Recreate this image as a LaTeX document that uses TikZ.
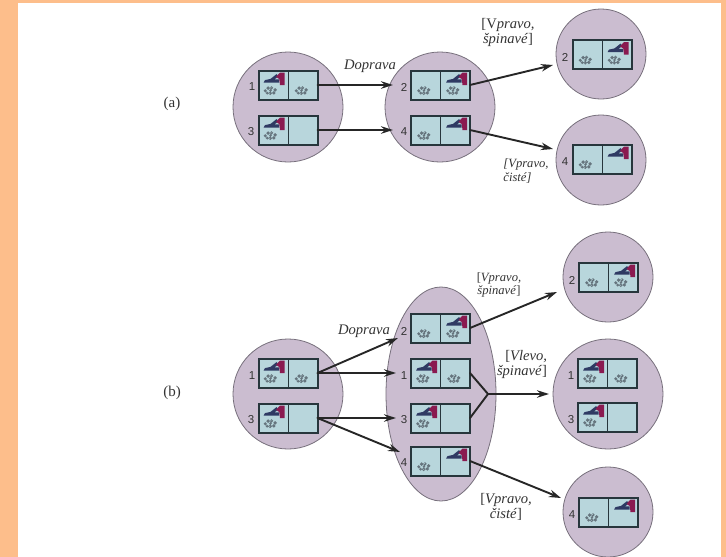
\documentclass[tikz,border=0pt]{standalone}
\usepackage{fontspec}
\setmainfont{Liberation Serif}
\newfontfamily\numfont{Liberation Sans}
\usetikzlibrary{arrows.meta}
\definecolor{pageor}{HTML}{FDBE8B}
\definecolor{blob}{HTML}{CBBDD0}
\definecolor{blobedge}{HTML}{77707C}
\definecolor{cellc}{HTML}{B8D6DC}
\definecolor{boxedge}{HTML}{27363C}
\definecolor{vacred}{HTML}{8A1A50}
\definecolor{vacblue}{HTML}{2F3A63}
\definecolor{dirtc}{HTML}{66757E}
\definecolor{inkc}{HTML}{333333}
\tikzset{
  state/.style={circle,draw=blobedge,fill=blob,line width=0.8pt,minimum size=#1,inner sep=0pt,outer sep=0pt},
  roombox/.style={rectangle,draw=boxedge,fill=cellc,line width=2pt,minimum width=59pt,minimum height=29pt,inner sep=0pt,outer sep=0pt},
  divider/.style={draw=boxedge,line width=1pt},
  conn/.style={draw=black!85,line width=1.9pt,line cap=round},
  arrowc/.style={conn,-{Stealth[length=12pt,width=7.5pt]}},
  numlab/.style={font=\numfont\fontsize{11.5}{11.5}\selectfont,text=inkc,inner sep=0pt},
  biglab/.style={font=\fontsize{14.6}{15}\selectfont,text=inkc,inner sep=0pt},
  smalllab/.style={font=\fontsize{12.6}{13.5}\selectfont,text=inkc,inner sep=0pt},
  caselab/.style={font=\fontsize{15}{15}\selectfont,text=inkc,inner sep=0pt},
}
\newcommand{\vacat}[1]{%
  \fill[vacblue] (#1+0,12.2) -- (#1+1.5,9.6) -- (#1+7,8.4) -- (#1+13,3.6) -- (#1+15,6) -- (#1+11,8.8) -- (#1+15.5,8.8) -- (#1+15.5,12.2) -- cycle;
  \fill[vacred] (#1+12.5,6.4) -- (#1+16.5,2) -- (#1+21,2) -- (#1+21,14.6) -- (#1+16.5,14.6) -- (#1+15.8,8.6) -- cycle;
}
\newcommand{\dirtat}[2]{%
  \fill[dirtc] (#1-5.2,#2+0.3) circle (1.7) (#1-2.4,#2-2.4) circle (1.9) (#1+1,#2-2.6) circle (1.8)
    (#1+4.6,#2-0.6) circle (1.9) (#1+3.3,#2+2.4) circle (1.8) (#1-0.3,#2+2.8) circle (1.9) (#1-3.3,#2+2.7) circle (1.5) (#1,#2) circle (1.4);
  \fill[cellc] (#1-2.8,#2+0.1) circle (0.5) (#1+2.1,#2+0.2) circle (0.5) (#1+0.4,#2-3) circle (0.4) (#1-0.8,#2+3) circle (0.4);
}
% name, centre x, centre y, contents
\newcommand{\room}[4]{%
  \node[roombox] (#1) at (#2,#3) {};
  \draw[divider] (#1.north) -- (#1.south);
  \begin{scope}[shift={(#1.north west)}]#4\end{scope}
}
\begin{document}
\begin{tikzpicture}[x=1pt,y=-1pt]
\useasboundingbox (0,0) rectangle (726,557);
\fill[pageor] (0,0) rectangle (726,557);
\fill[white] (18,3) rectangle (721,557);

% (a)
\node[state=110pt] (aL) at (288,107) {};
\node[state=110pt] (aM) at (440,107) {};
\node[state=90pt] (aT) at (601,54) {};
\node[state=90pt] (aB) at (601,160) {};
\room{a1}{288}{85}{\vacat{5}\dirtat{12}{20}\dirtat{43}{20}}
\room{a3}{288}{130}{\vacat{5}\dirtat{12}{20}}
\room{a2}{440.5}{85}{\dirtat{13}{20}\vacat{35}\dirtat{42}{20}}
\room{a4}{440.5}{130}{\dirtat{13}{20}\vacat{35}}
\room{a5}{602}{54.5}{\dirtat{13}{20}\vacat{35}\dirtat{42}{20}}
\room{a6}{602}{159}{\dirtat{13}{20}\vacat{35}}
\node[numlab] (na1) at (252,87) {1};
\node[numlab] (na3) at (251,132) {3};
\node[numlab] (na2) at (404,87) {2};
\node[numlab] (na4) at (404,132) {4};
\node[numlab] (na5) at (565,57) {2};
\node[numlab] (na6) at (565,162) {4};
\node[caselab] (la) at (172,104) {(a)};
\node[biglab] (ld1) at (370,66) {\itshape Doprava};
\node[biglab,align=center] (ltr) at (508,32.5) {[V\textit{pravo,}\\ \textit{špinavé}]};
\node[smalllab,align=left] (lbr) at (526,171) {\itshape [Vpravo,\\ \itshape čisté]};
\coordinate (ta5) at (553,65);
\coordinate (ta6) at (553,149);
\coordinate (ta2) at (393,85);
\coordinate (ta4) at (393,130);
\draw[arrowc] (a1.east) -- (ta2);
\draw[arrowc] (a3.east) -- (ta4);
\draw[arrowc] (a2.east) -- (ta5);
\draw[arrowc] (a4.east) -- (ta6);

% (b)
\node[state=110pt] (bL) at (288,394) {};
\node[circle,draw=none,inner sep=0pt] (bMc) at (441,394) {};
\draw[draw=blobedge,fill=blob,line width=0.8pt] (bMc) ellipse [x radius=55,y radius=107];
\node[state=90pt] (bT) at (608,277) {};
\node[state=110pt] (bC) at (608,394) {};
\node[state=90pt] (bB) at (608,512) {};
\room{b1}{288}{373}{\vacat{5}\dirtat{12}{20}\dirtat{43}{20}}
\room{b3}{288}{418}{\vacat{5}\dirtat{12}{20}}
\room{m2}{440.5}{328}{\dirtat{13}{20}\vacat{35}\dirtat{42}{20}}
\room{m1}{440.5}{373}{\vacat{5}\dirtat{12}{20}\dirtat{43}{20}}
\room{m3}{440.5}{418}{\vacat{5}\dirtat{12}{20}}
\room{m4}{440.5}{461}{\dirtat{13}{20}\vacat{35}}
\room{r2}{608.5}{277}{\dirtat{13}{20}\vacat{35}\dirtat{42}{20}}
\room{r1}{607.5}{373}{\vacat{5}\dirtat{12}{20}\dirtat{43}{20}}
\room{r3}{607.5}{417}{\vacat{5}\dirtat{12}{20}}
\room{r4}{608.5}{512}{\dirtat{13}{20}\vacat{35}}
\node[numlab] (nb1) at (252,376) {1};
\node[numlab] (nb3) at (251,420) {3};
\node[numlab] (nm2) at (404,331) {2};
\node[numlab] (nm1) at (404,376) {1};
\node[numlab] (nm3) at (404,420) {3};
\node[numlab] (nm4) at (404,463) {4};
\node[numlab] (nr2) at (572,280) {2};
\node[numlab] (nr1) at (571,376) {1};
\node[numlab] (nr3) at (571,420) {3};
\node[numlab] (nr4) at (572,515) {4};
\node[caselab] (lb) at (172,393) {(b)};
\node[biglab] (ld2) at (364,331) {\itshape Doprava};
\node[smalllab,align=center] (ltb) at (499,285) {[\textit{Vpravo,}\\ \textit{špinavé}]};
\node[biglab,align=right] (lvl) at (522,364) {[\textit{Vlevo,}\\ \textit{špinavé}]};
\node[biglab,align=center] (lbb) at (506,507) {[\textit{Vpravo,}\\ \textit{čisté}]};
\coordinate (t2) at (398,338);
\coordinate (t1) at (396,373);
\coordinate (t3) at (396,418);
\coordinate (t4) at (400,452);
\coordinate (tr2) at (557,292);
\coordinate (tc) at (549,394);
\coordinate (tr4) at (561,498);
\coordinate (jn) at (488,394);
\draw[arrowc] (b1.east) -- (t2);
\draw[arrowc] (b1.east) -- (t1);
\draw[arrowc] (b3.east) -- (t3);
\draw[arrowc] (b3.east) -- (t4);
\draw[arrowc] (m2.east) -- (tr2);
\draw[conn] (m1.east) -- (jn);
\draw[conn] (m3.east) -- (jn);
\draw[arrowc] (jn) -- (tc);
\draw[arrowc] (m4.east) -- (tr4);
\end{tikzpicture}
\end{document}
